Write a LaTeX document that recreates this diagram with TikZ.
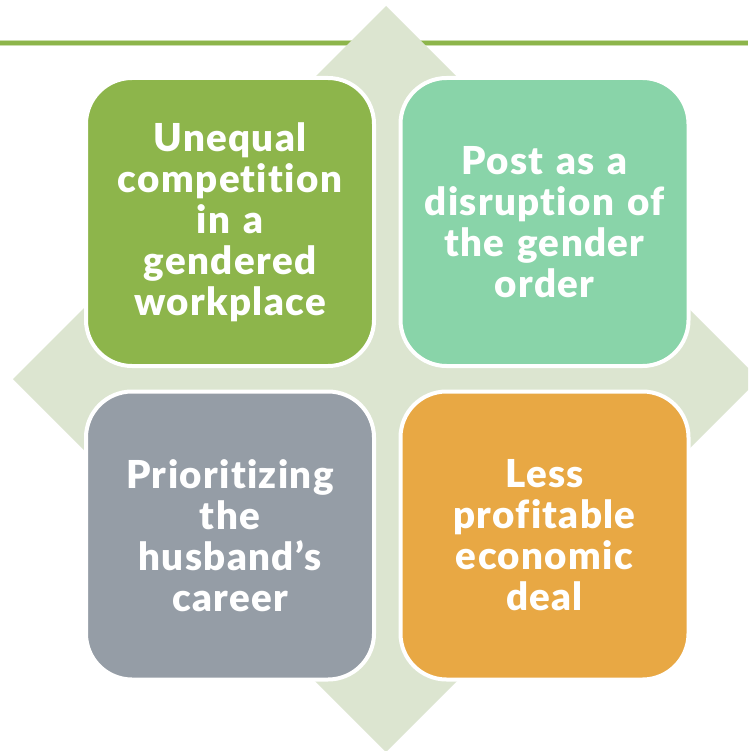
\documentclass[tikz,border=0pt]{standalone}
\usepackage{fontspec}
\setmainfont{Lato}[BoldFont={Lato Black}, Ligatures=NoCommon, LetterSpace=3.5]
\definecolor{cgreen}{HTML}{8DB54B}
\definecolor{cteal}{HTML}{89D4A9}
\definecolor{cgray}{HTML}{959DA6}
\definecolor{corange}{HTML}{E8A844}
\definecolor{cdiamond}{HTML}{DCE5D0}
\definecolor{cline}{HTML}{8DB54B}
\tikzset{
  tile/.style={draw=white, line width=4pt, rounded corners=46pt,
    minimum width=288pt, minimum height=288pt, inner sep=0pt,
    text=white, align=center, text width=284pt,
    font=\fontsize{38.5pt}{41pt}\selectfont\bfseries},
}
\begin{document}
\begin{tikzpicture}[x=1pt,y=-1pt]
\useasboundingbox (0,0) rectangle (748,751);
\clip (0,0) rectangle (748,751);
\fill[white] (0,0) rectangle (748,751);
% top rule
\draw[cline!45, line width=6pt] (0,43) -- (748,43);
\draw[cline, line width=3.5pt] (0,43) -- (748,43);
% diamond
\fill[cdiamond] (386,6) -- (759,379) -- (386,752) -- (13,379) -- cycle;
% tiles
\node[tile, fill=cgreen]  (tl) at (230,222) {Unequal\\competition\\in a\\gendered\\workplace};
\node[tile, fill=cteal]   (tr) at (544.5,222) {Post as a\\disruption of\\the gender\\order};
\node[tile, fill=cgray]   (bl) at (230,535.5) {Prioritizing\\the\\husband’s\\career};
\node[tile, fill=corange] (br) at (544.5,535.5) {Less\\profitable\\economic\\deal};
\end{tikzpicture}
\end{document}
